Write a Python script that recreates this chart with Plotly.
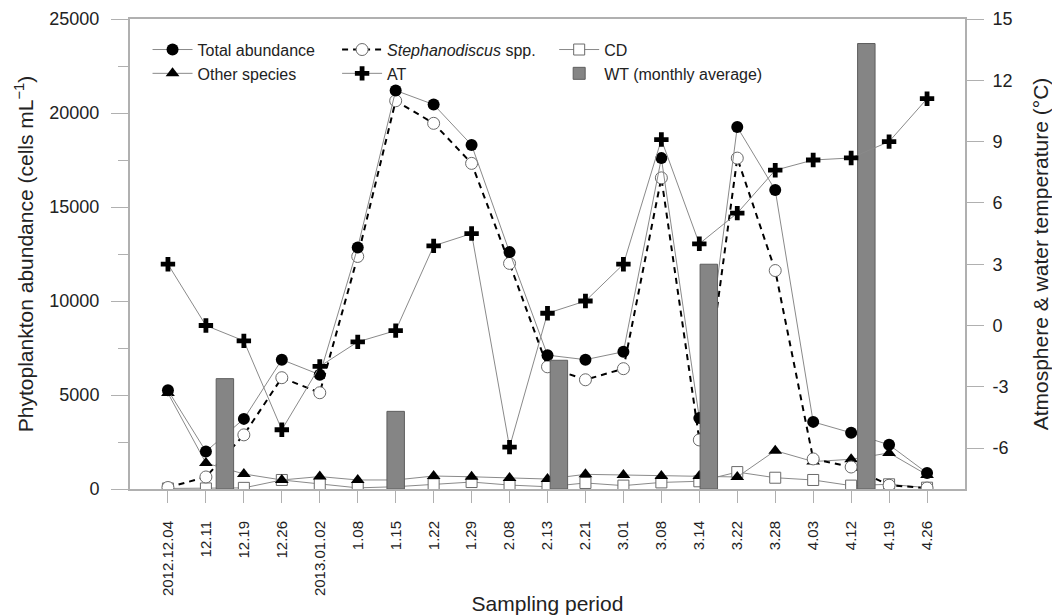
import plotly.graph_objects as go

dates = ["2012.12.04", "12.11", "12.19", "12.26", "2013.01.02", "1.08", "1.15", "1.22", "1.29",
         "2.08", "2.13", "2.21", "3.01", "3.08", "3.14", "3.22", "3.28", "4.03", "4.12", "4.19", "4.26"]
idx = list(range(len(dates)))

total_abundance = [5250, 2000, 3730, 6880, 6080, 12850, 21200, 20450, 18300, 12600, 7120, 6880,
                   7300, 17600, 3770, 19250, 15900, 3570, 2990, 2350, 850]
stephanodiscus = [80, 640, 2880, 5920, 5120, 12370, 20650, 19450, 17320, 12000, 6500, 5810,
                  6400, 16550, 2610, 17600, 11620, 1600, 1170, 200, 50]
other_species = [5100, 1380, 800, 480, 660, 480, 480, 690, 650, 590, 530, 780,
                 750, 690, 690, 640, 2040, 1460, 1580, 1920, 750]
cd = [30, 30, 60, 480, 260, 60, 120, 250, 370, 210, 120, 320,
      180, 350, 410, 900, 600, 480, 180, 250, 70]
at = [3.0, 0.0, -0.75, -5.1, -2.0, -0.8, -0.25, 3.9, 4.5, -5.95, 0.6, 1.2,
      3.0, 9.1, 4.0, 5.5, 7.6, 8.1, 8.2, 9.0, 11.1]

wt_pos = [1.5, 6.0, 10.3, 14.25, 18.4]
wt = [-2.6, -4.2, -1.7, 3.0, 13.8]

T_MIN, T_MAX = -8, 15
AB_MAX = 25000

FONT = "Arial, Liberation Sans, Helvetica, sans-serif"
TXT = "#222222"
GRAY = "#8a8a8a"
AX = "#b0b0b0"

fig = go.Figure()

fig.add_trace(go.Bar(
    x=wt_pos, y=[v - T_MIN for v in wt], base=T_MIN, width=0.46,
    marker=dict(color="#858585", line=dict(color="#5e5e5e", width=1)),
    name="WT (monthly average)", yaxis="y2", legend="legend3", legendrank=2,
))

fig.add_trace(go.Scatter(
    x=idx, y=at, mode="lines+markers", name="AT", yaxis="y2",
    line=dict(color=GRAY, width=1),
    marker=dict(symbol="cross", size=12, color="black", line=dict(width=0)),
    legend="legend2", legendrank=2,
))
fig.add_trace(go.Scatter(
    x=idx, y=cd, mode="lines+markers", name="CD",
    line=dict(color=GRAY, width=1),
    marker=dict(symbol="square", size=11, color="white", line=dict(color="#6a6a6a", width=1)),
    legend="legend3", legendrank=1,
))
fig.add_trace(go.Scatter(
    x=idx, y=other_species, mode="lines+markers", name="Other species",
    line=dict(color=GRAY, width=1),
    marker=dict(symbol="triangle-up", size=12, color="black", line=dict(width=0)),
    legend="legend", legendrank=2,
))
fig.add_trace(go.Scatter(
    x=idx, y=stephanodiscus, mode="lines+markers", name="<i>Stephanodiscus</i> spp.",
    line=dict(color="black", width=2, dash="6px,5px"),
    marker=dict(symbol="circle", size=12, color="white", line=dict(color="#6a6a6a", width=1)),
    legend="legend2", legendrank=1,
))
fig.add_trace(go.Scatter(
    x=idx, y=total_abundance, mode="lines+markers", name="Total abundance",
    line=dict(color=GRAY, width=1),
    marker=dict(symbol="circle", size=12, color="black", line=dict(width=0)),
    legend="legend", legendrank=1,
))

leg = dict(font=dict(family=FONT, size=16, color=TXT), bgcolor="rgba(0,0,0,0)",
           yanchor="top", xanchor="left", tracegroupgap=0, itemwidth=40,
           traceorder="normal")

fig.update_layout(
    width=1052, height=608,
    margin=dict(l=122, r=95, t=11, b=127, autoexpand=False),
    paper_bgcolor="white", plot_bgcolor="white",
    font=dict(family=FONT, color=TXT, size=18),
    barmode="overlay",
    showlegend=True,
    legend=dict(leg, x=0.021, y=0.971),
    legend2=dict(leg, x=0.248, y=0.971),
    legend3=dict(leg, x=0.508, y=0.971),
    xaxis=dict(
        range=[-1, 21], tickvals=idx, ticktext=dates, tickangle=-90, automargin=False,
        ticks="outside", ticklen=12, tickcolor=AX, tickwidth=1, ticklabelstandoff=12,
        showline=True, linecolor=AX, linewidth=2, mirror=True,
        showgrid=False, zeroline=False,
        tickfont=dict(size=15, family=FONT, color=TXT),
        title=dict(text="Sampling period", font=dict(size=21, family=FONT, color=TXT), standoff=1),
    ),
    yaxis=dict(
        range=[0, AB_MAX], tickvals=[0, 5000, 10000, 15000, 20000, 25000], automargin=False,
        ticktext=["0", "5000", "10000", "15000", "20000", "25000"],
        ticks="outside", ticklen=17, tickcolor=AX, tickwidth=1, ticklabelstandoff=8,
        minor=dict(tickvals=[2500, 7500, 12500, 17500, 22500], ticks="outside", ticklen=10, tickcolor=AX),
        showline=True, linecolor=AX, linewidth=2,
        showgrid=False, zeroline=False,
        tickfont=dict(size=18, family=FONT, color=TXT),
        title=dict(text="Phytoplankton abundance (cells mL<sup>\u22121</sup>)",
                   font=dict(size=21, family=FONT, color=TXT), standoff=10),
    ),
    yaxis2=dict(
        range=[T_MIN, T_MAX], overlaying="y", side="right", anchor="x", automargin=False,
        tickvals=[-6, -3, 0, 3, 6, 9, 12, 15],
        ticktext=["-6", "-3", "0", "3", "6", "9", "12", "15"],
        ticks="outside", ticklen=17, tickcolor=AX, tickwidth=1, ticklabelstandoff=5,
        showline=True, linecolor=AX, linewidth=2,
        showgrid=False, zeroline=False,
        tickfont=dict(size=18, family=FONT, color=TXT),
        title=dict(text="Atmosphere & water temperature (\u00b0C)",
                   font=dict(size=21, family=FONT, color=TXT), standoff=22),
    ),
)

fig.write_html("out.html")
